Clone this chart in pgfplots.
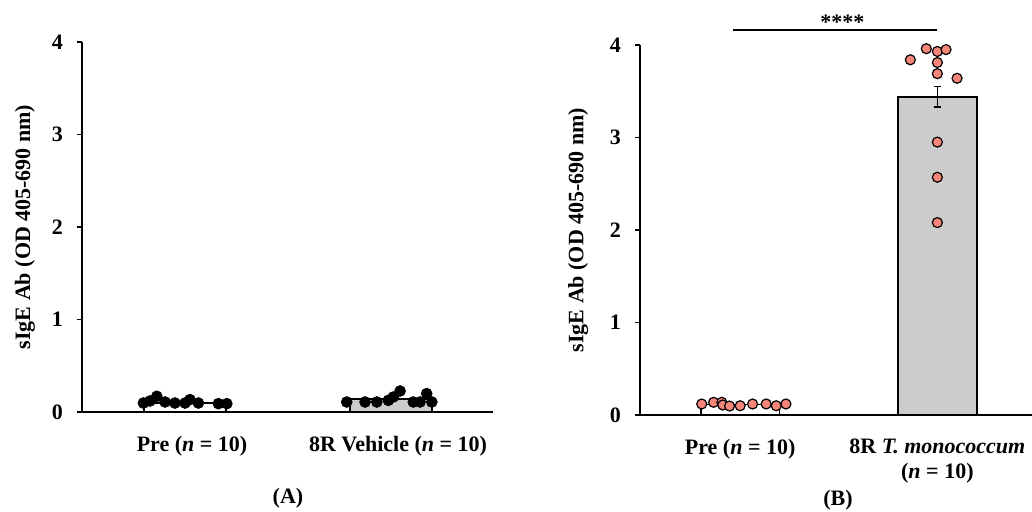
\documentclass[border=0pt]{standalone}
\usepackage{fontspec}
\setmainfont{Liberation Serif}
\usepackage{pgfplots}
\pgfplotsset{compat=1.18}
\definecolor{salmonpt}{RGB}{247,134,122}
\definecolor{bargray}{RGB}{204,204,204}

\pgfplotstableread{
x y
-0.202 0.097
-0.170 0.119
-0.137 0.170
-0.097 0.108
-0.049 0.097
0.000 0.097
0.024 0.134
0.065 0.097
0.162 0.090
0.203 0.090
}\preA
\pgfplotstableread{
x y
0.785 0.108
0.874 0.108
0.931 0.108
0.987 0.126
1.011 0.162
1.044 0.227
1.108 0.108
1.141 0.108
1.173 0.199
1.198 0.108
}\vehA
\pgfplotstableread{
x y
-0.195 0.119
-0.135 0.137
-0.093 0.137
-0.088 0.108
-0.054 0.097
0.000 0.100
0.063 0.119
0.132 0.119
0.183 0.100
0.232 0.119
}\preB
\pgfplotstableread{
x y
0.863 3.84
0.944 3.96
1.000 3.93
1.044 3.95
1.000 3.81
1.000 3.69
1.100 3.64
1.000 2.95
1.000 2.57
1.000 2.08
}\monoB

\newcommand{\ff}{\fontsize{11}{12.5}\selectfont\bfseries}

\pgfplotsset{panel/.style={
  scale only axis,
  axis lines*=left,
  axis line style={line width=0.8pt},
  ymin=0, ymax=4, ytick={0,1,2,3,4},
  tick align=outside, major tick length=2.5pt,
  ytick style={black, line width=0.8pt},
  xtick={0,1}, xtick style={draw=none},
  ticklabel style={font=\ff},
  /pgf/number format/assume math mode=true,
  yticklabel style={xshift=-3.5pt},
  xticklabel style={yshift=-6pt, align=center},
  height=185pt,
  clip=false,
  every axis y label/.style={rotate=90, anchor=center, font=\ff},
  ylabel={sIgE Ab (OD 405-690 nm)},
}}

\begin{document}
\begin{tikzpicture}[font=\ff]
\useasboundingbox (0,0) rectangle (516pt,256pt);
% Panel A
\begin{axis}[panel,
  at={(41pt,50pt)}, anchor=south west,
  width=205.5pt, xmin=-0.5, xmax=1.495,
  xticklabels={Pre (\textit{n} = 10), 8R Vehicle (\textit{n} = 10)},
  xticklabel style={xshift=3.5pt},
  ylabel style={at={(axis description cs:-0.139,0.5)}},
]
\addplot[ybar, bar width=0.4, fill=white, draw=black, line width=0.8pt] coordinates {(0,0.10)};
\addplot[ybar, bar width=0.4, fill=bargray, draw=black, line width=0.8pt] coordinates {(1,0.14)};
\addplot[only marks, mark=*, mark size=2.7pt, mark options={fill=black, draw=black}] table[x=x,y=y] {\preA};
\addplot[only marks, mark=*, mark size=2.7pt, mark options={fill=black, draw=black}] table[x=x,y=y] {\vehA};
\end{axis}
% Panel B
\begin{axis}[panel,
  at={(320pt,48.5pt)}, anchor=south west,
  width=196pt, xmin=-0.508, xmax=1.48,
  xticklabels={Pre (\textit{n} = 10), 8R \textit{T. monococcum}\\(\textit{n} = 10)},
  ylabel style={at={(axis description cs:-0.158,0.5)}},
]
\addplot[ybar, bar width=0.4, fill=white, draw=black, line width=0.8pt] coordinates {(0,0.115)};
\addplot[ybar, bar width=0.4, fill=bargray, draw=black, line width=0.8pt,
  error bars/.cd, y dir=both, y explicit,
  error bar style={line width=0.8pt},
  error mark options={rotate=90, mark size=1.8pt, line width=0.8pt}]
  coordinates {(1,3.44) +- (0,0.11)};
\addplot[only marks, mark=*, mark size=2.5pt, mark options={fill=salmonpt, draw=black, line width=0.6pt}] table[x=x,y=y] {\preB};
\addplot[only marks, mark=*, mark size=2.5pt, mark options={fill=salmonpt, draw=black, line width=0.6pt}] table[x=x,y=y] {\monoB};
\draw[line width=0.8pt] (axis cs:-0.036,4.16) -- (axis cs:1.0,4.16);
\node[anchor=base, inner sep=0pt, font=\ff] at (axis cs:0.518,4.17) {****};
\end{axis}
\node[anchor=base, font=\ff] at (144pt,4pt) {(A)};
\node[anchor=base, font=\ff] at (419pt,3pt) {(B)};
\end{tikzpicture}
\end{document}
